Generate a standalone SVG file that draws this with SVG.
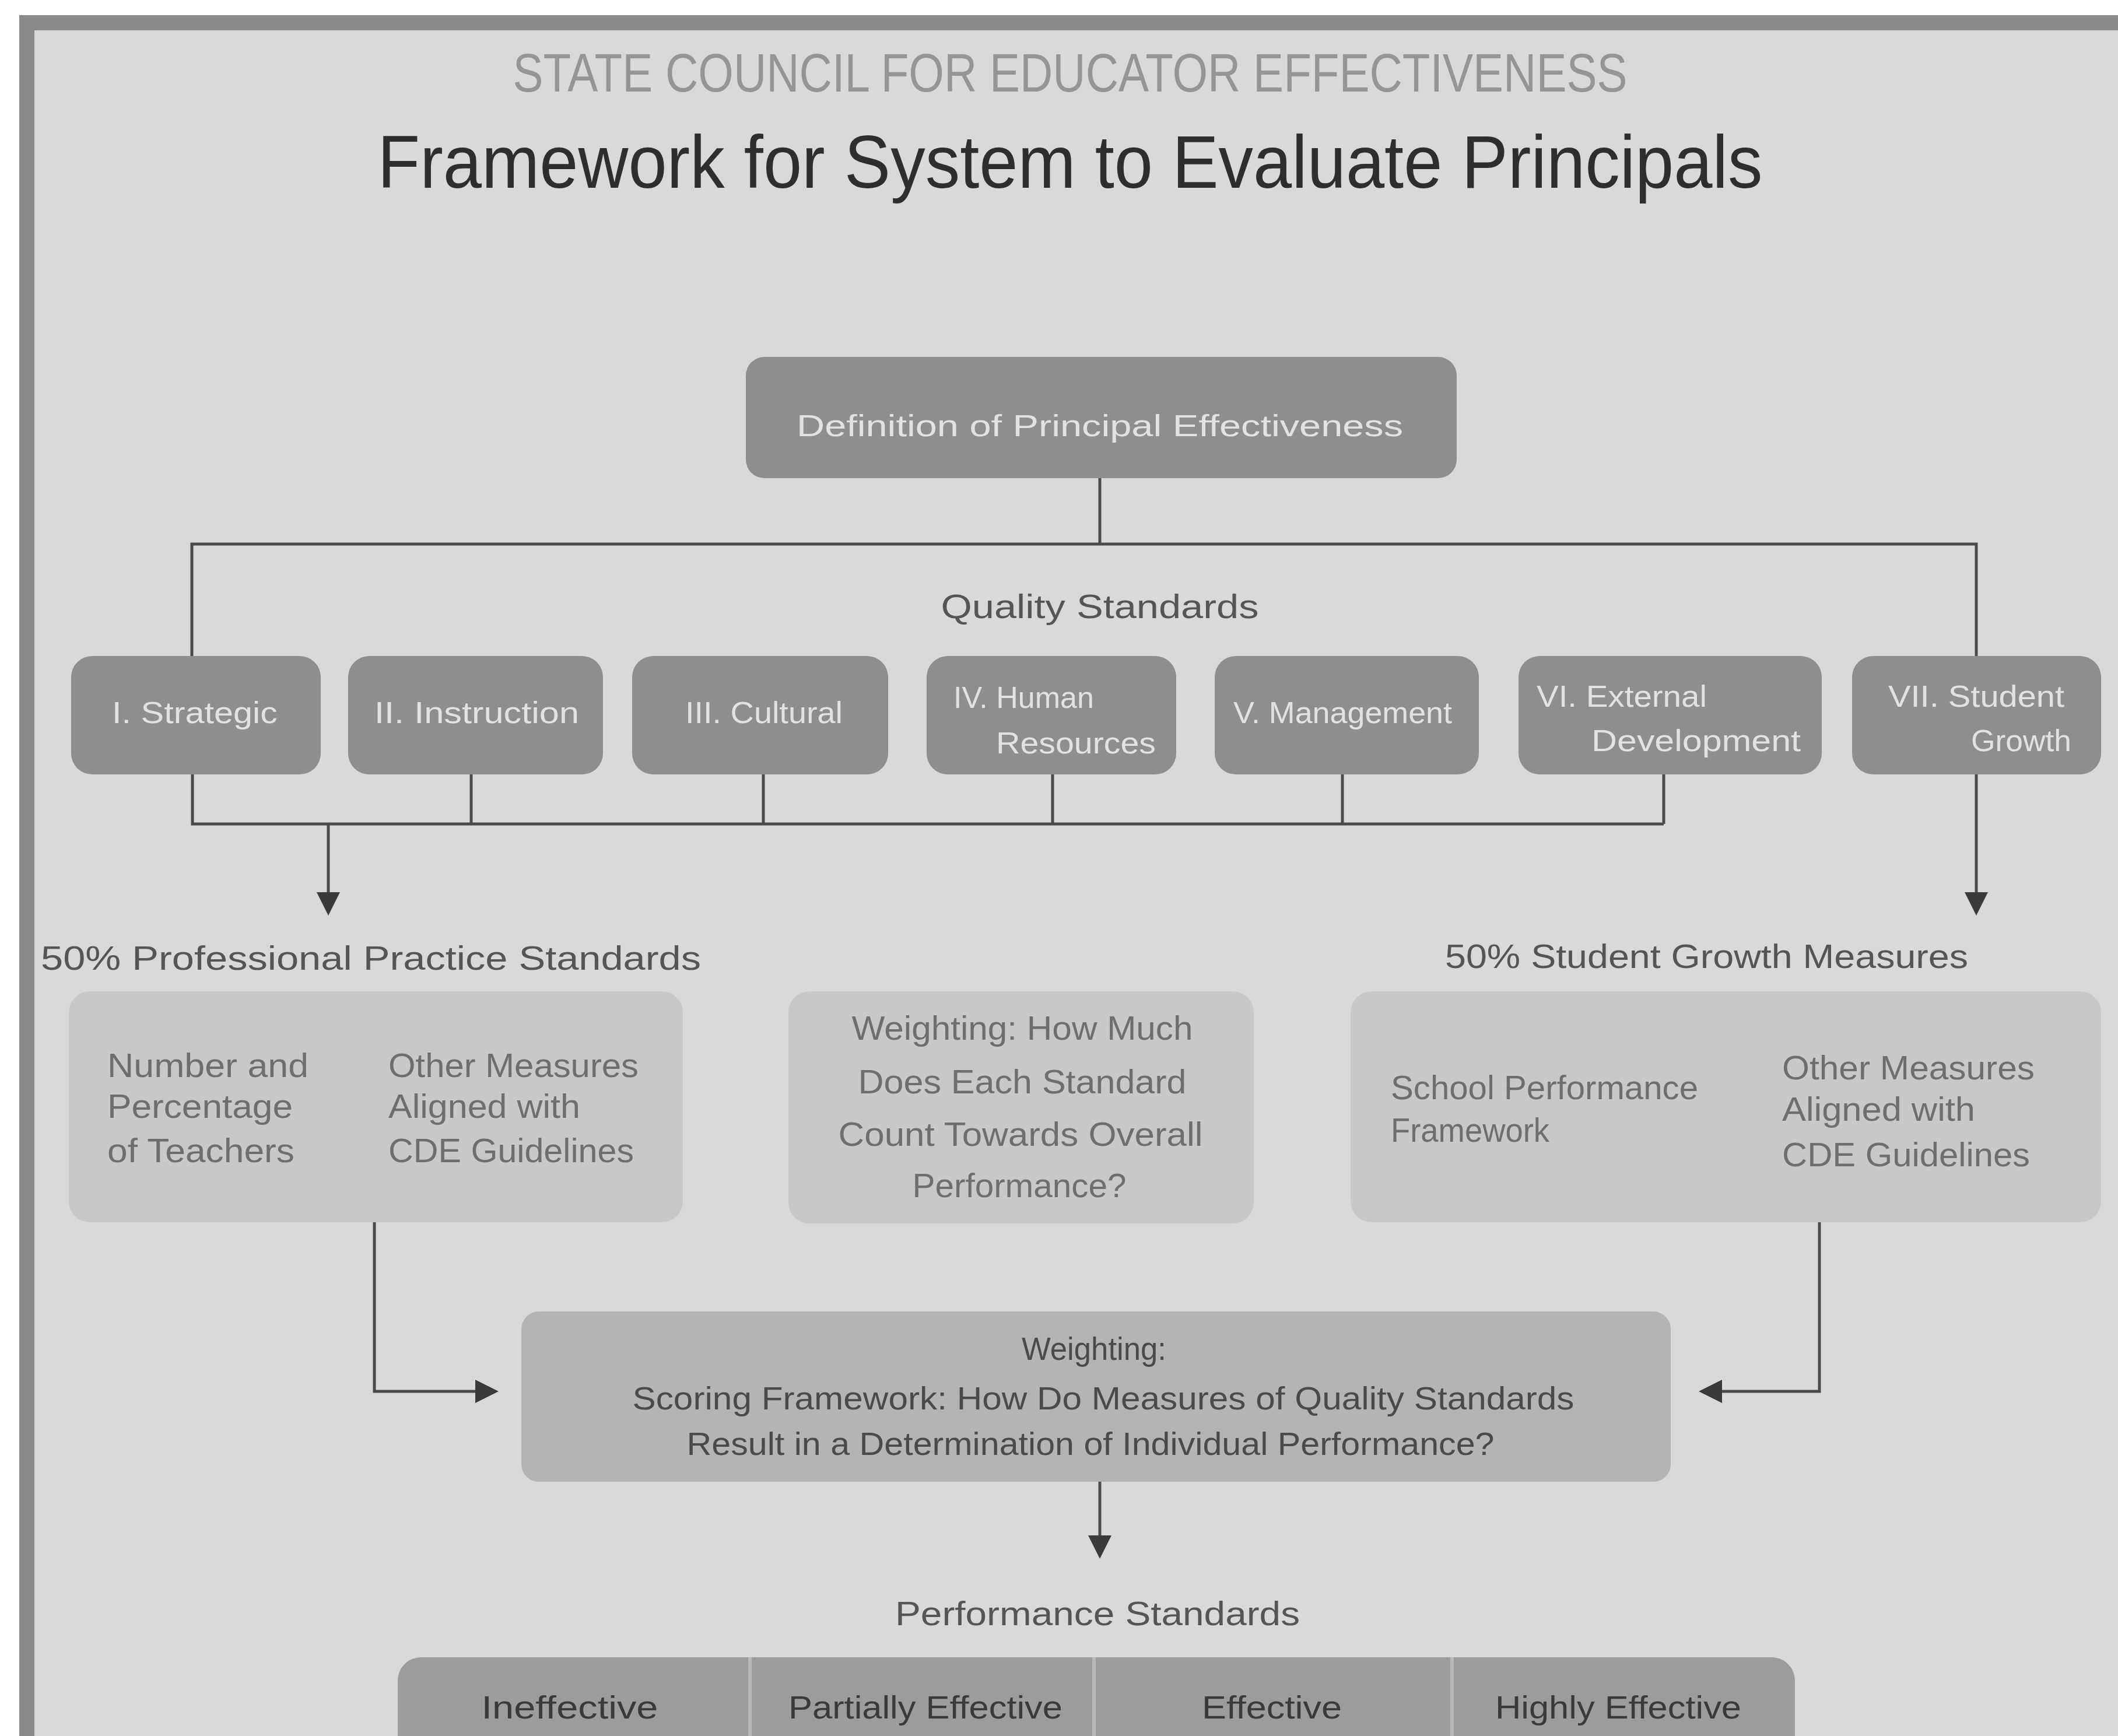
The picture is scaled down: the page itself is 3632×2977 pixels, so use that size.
<svg xmlns="http://www.w3.org/2000/svg" width="3632" height="2977" viewBox="0 0 3632 2977">
<defs>
<style>
text{font-family:"Liberation Sans","DejaVu Sans",sans-serif;}
.dark{fill:#8e8e8e;}
.light{fill:#c8c8c8;}
.dtext{fill:#e2e2e2;font-size:52px;}
.ltext{fill:#6e6e6e;font-size:58px;}
.lbl{fill:#555555;font-size:58px;}
.ln{stroke:#4a4a4a;stroke-width:5;fill:none;}
</style>
<marker id="arr" markerWidth="8" markerHeight="8" refX="7" refY="4" orient="auto" markerUnits="strokeWidth">
<path d="M0,0 L8,4 L0,8 z" fill="#3a3a3a"/>
</marker>
</defs>
<rect x="0" y="0" width="3632" height="2977" fill="#ffffff"/>
<rect x="46" y="39" width="3620" height="3000" fill="#d9d9d9" stroke="#8a8a8a" stroke-width="26"/>

<g id="title">
<text x="1835" y="157" text-anchor="middle" font-size="92" fill="#959595" textLength="1911" lengthAdjust="spacingAndGlyphs">STATE COUNCIL FOR EDUCATOR EFFECTIVENESS</text>
<text x="1835" y="322" text-anchor="middle" font-size="128" fill="#2e2e2e" textLength="2375" lengthAdjust="spacingAndGlyphs">Framework for System to Evaluate Principals</text>
</g>

<g id="connectors">
<path class="ln" d="M1886,820 V933"/>
<path class="ln" d="M329,1125 V933 H3389 V1125"/>
<path class="ln" d="M330,1328 V1413 H2853"/>
<path class="ln" d="M808,1328 V1413"/>
<path class="ln" d="M1309,1328 V1413"/>
<path class="ln" d="M1805,1328 V1413"/>
<path class="ln" d="M2302,1328 V1413"/>
<path class="ln" d="M2853,1328 V1413"/>
<path class="ln" d="M563,1413 V1565" marker-end="url(#arr)"/>
<path class="ln" d="M3389,1328 V1565" marker-end="url(#arr)"/>
<path class="ln" d="M642,2096 V2386 H850" marker-end="url(#arr)"/>
<path class="ln" d="M3120,2096 V2386 H2918" marker-end="url(#arr)"/>
<path class="ln" d="M1886,2541 V2668" marker-end="url(#arr)"/>
</g>

<g id="definition">
<rect class="dark" x="1279" y="612" width="1219" height="208" rx="32"/>
<text class="dtext" x="1886" y="748" text-anchor="middle" font-size="58" textLength="1040" lengthAdjust="spacingAndGlyphs">Definition of Principal Effectiveness</text>
</g>

<text class="lbl" x="1886" y="1060" text-anchor="middle" font-size="56" textLength="545" lengthAdjust="spacingAndGlyphs">Quality Standards</text>

<g id="std1">
<rect class="dark" x="122" y="1125" width="428" height="203" rx="36"/>
<text class="dtext" x="192" y="1240" textLength="284" lengthAdjust="spacingAndGlyphs">I. Strategic</text>
</g>
<g id="std2">
<rect class="dark" x="597" y="1125" width="437" height="203" rx="36"/>
<text class="dtext" x="642" y="1240" textLength="351" lengthAdjust="spacingAndGlyphs">II. Instruction</text>
</g>
<g id="std3">
<rect class="dark" x="1084" y="1125" width="439" height="203" rx="36"/>
<text class="dtext" x="1175" y="1240" textLength="270" lengthAdjust="spacingAndGlyphs">III. Cultural</text>
</g>
<g id="std4">
<rect class="dark" x="1589" y="1125" width="428" height="203" rx="36"/>
<text class="dtext" x="1635" y="1214">IV. Human</text>
<text class="dtext" x="1708" y="1292" textLength="274" lengthAdjust="spacingAndGlyphs">Resources</text>
</g>
<g id="std5">
<rect class="dark" x="2083" y="1125" width="453" height="203" rx="36"/>
<text class="dtext" x="2115" y="1240" textLength="375" lengthAdjust="spacingAndGlyphs">V. Management</text>
</g>
<g id="std6">
<rect class="dark" x="2604" y="1125" width="520" height="203" rx="36"/>
<text class="dtext" x="2635" y="1212" textLength="292" lengthAdjust="spacingAndGlyphs">VI. External</text>
<text class="dtext" x="2729" y="1288" textLength="359" lengthAdjust="spacingAndGlyphs">Development</text>
</g>
<g id="std7">
<rect class="dark" x="3176" y="1125" width="427" height="203" rx="36"/>
<text class="dtext" x="3238" y="1212" textLength="302" lengthAdjust="spacingAndGlyphs">VII. Student</text>
<text class="dtext" x="3380" y="1288" textLength="172" lengthAdjust="spacingAndGlyphs">Growth</text>
</g>

<g id="practice">
<text class="lbl" x="70" y="1663" font-size="62" textLength="1132" lengthAdjust="spacingAndGlyphs">50% Professional Practice Standards</text>
<rect class="light" x="118" y="1700" width="1053" height="396" rx="36"/>
<text class="ltext" x="184" y="1847" textLength="345" lengthAdjust="spacingAndGlyphs">Number and</text>
<text class="ltext" x="184" y="1917" textLength="318" lengthAdjust="spacingAndGlyphs">Percentage</text>
<text class="ltext" x="184" y="1993" textLength="321" lengthAdjust="spacingAndGlyphs">of Teachers</text>
<text class="ltext" x="666" y="1847" textLength="429" lengthAdjust="spacingAndGlyphs">Other Measures</text>
<text class="ltext" x="666" y="1917" textLength="329" lengthAdjust="spacingAndGlyphs">Aligned with</text>
<text class="ltext" x="666" y="1993" textLength="421" lengthAdjust="spacingAndGlyphs">CDE Guidelines</text>
</g>

<g id="weighting-question">
<rect class="light" x="1352" y="1700" width="798" height="398" rx="36"/>
<text class="ltext" x="1753" y="1783" text-anchor="middle" textLength="585" lengthAdjust="spacingAndGlyphs">Weighting: How Much</text>
<text class="ltext" x="1753" y="1875" text-anchor="middle" textLength="563" lengthAdjust="spacingAndGlyphs">Does Each Standard</text>
<text class="ltext" x="1750" y="1965" text-anchor="middle" textLength="625" lengthAdjust="spacingAndGlyphs">Count Towards Overall</text>
<text class="ltext" x="1748" y="2053" text-anchor="middle" textLength="367" lengthAdjust="spacingAndGlyphs">Performance?</text>
</g>

<g id="growth">
<text class="lbl" x="2478" y="1660" font-size="62" textLength="897" lengthAdjust="spacingAndGlyphs">50% Student Growth Measures</text>
<rect class="light" x="2316" y="1700" width="1287" height="396" rx="36"/>
<text class="ltext" x="2385" y="1885" textLength="527" lengthAdjust="spacingAndGlyphs">School Performance</text>
<text class="ltext" x="2385" y="1958" textLength="272" lengthAdjust="spacingAndGlyphs">Framework</text>
<text class="ltext" x="3056" y="1851" textLength="433" lengthAdjust="spacingAndGlyphs">Other Measures</text>
<text class="ltext" x="3056" y="1922" textLength="331" lengthAdjust="spacingAndGlyphs">Aligned with</text>
<text class="ltext" x="3056" y="2000" textLength="425" lengthAdjust="spacingAndGlyphs">CDE Guidelines</text>
</g>

<g id="scoring">
<rect x="894" y="2249" width="1971" height="292" rx="30" fill="#b4b4b4"/>
<text x="1876" y="2332" text-anchor="middle" font-size="56" fill="#4a4a4a" textLength="248" lengthAdjust="spacingAndGlyphs">Weighting:</text>
<text x="1892" y="2417" text-anchor="middle" font-size="56" fill="#4a4a4a" textLength="1615" lengthAdjust="spacingAndGlyphs">Scoring Framework: How Do Measures of Quality Standards</text>
<text x="1870" y="2495" text-anchor="middle" font-size="56" fill="#4a4a4a" textLength="1385" lengthAdjust="spacingAndGlyphs">Result in a Determination of Individual Performance?</text>
</g>

<text class="lbl" x="1882" y="2787" text-anchor="middle" font-size="56" textLength="694" lengthAdjust="spacingAndGlyphs">Performance Standards</text>

<g id="performance">
<rect x="682" y="2842" width="2396" height="200" rx="40" fill="#9c9c9c"/>
<line x1="1286" y1="2842" x2="1286" y2="2977" stroke="#b8b8b8" stroke-width="6"/>
<line x1="1876" y1="2842" x2="1876" y2="2977" stroke="#b8b8b8" stroke-width="6"/>
<line x1="2490" y1="2842" x2="2490" y2="2977" stroke="#b8b8b8" stroke-width="6"/>
<text x="977" y="2947" text-anchor="middle" font-size="56" fill="#3a3a3a" textLength="303" lengthAdjust="spacingAndGlyphs">Ineffective</text>
<text x="1587" y="2947" text-anchor="middle" font-size="56" fill="#3a3a3a" textLength="470" lengthAdjust="spacingAndGlyphs">Partially Effective</text>
<text x="2181" y="2947" text-anchor="middle" font-size="56" fill="#3a3a3a" textLength="240" lengthAdjust="spacingAndGlyphs">Effective</text>
<text x="2775" y="2947" text-anchor="middle" font-size="56" fill="#3a3a3a" textLength="422" lengthAdjust="spacingAndGlyphs">Highly Effective</text>
</g>
</svg>
